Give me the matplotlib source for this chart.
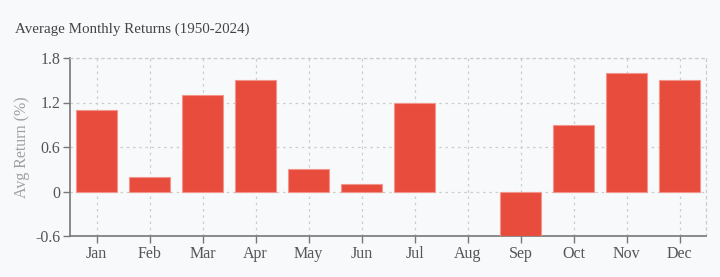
import numpy as np
import matplotlib.pyplot as plt

# average monthly returns (%)
months = ['Jan', 'Feb', 'Mar', 'Apr', 'May', 'Jun',
          'Jul', 'Aug', 'Sep', 'Oct', 'Nov', 'Dec']
avg_return = [1.1, 0.2, 1.3, 1.5, 0.3, 0.1, 1.2, 0.0, -0.6, 0.9, 1.6, 1.5]
yticks = [-0.6, 0, 0.6, 1.2, 1.8]
ytick_labels = ['-0.6', '0', '0.6', '1.2', '1.8']

bg = '#f8f9fa'
txt = '#555555'
axcol = '#777777'

plt.rcParams['font.family'] = ['Liberation Serif', 'DejaVu Serif']

fig = plt.figure(figsize=(7.2, 2.77), dpi=100, facecolor=bg)
ax = fig.add_axes([70 / 720, 1 - 236 / 277, 636 / 720, 178 / 277])
ax.set_facecolor(bg)

x = np.arange(len(months))
bars = ax.bar(x, avg_return, width=0.79, color='#e74c3c', edgecolor='#f2958b',
              linewidth=0.8, zorder=3)
# zero-height bars are not drawn in the original
for b, v in zip(bars, avg_return):
    if v == 0:
        b.set_visible(False)

ax.set_xlim(-0.5, 11.5)
ax.set_ylim(-0.6, 1.8)
ax.set_xticks(x)
ax.set_xticklabels(months)
ax.set_yticks(yticks)
ax.set_yticklabels(ytick_labels)

ax.grid(True, linestyle=(0, (2, 3)), color='#cccccc', linewidth=0.9, zorder=0)

for s in ['top', 'right']:
    ax.spines[s].set_visible(True)
    ax.spines[s].set_linestyle((0, (2, 3)))
    ax.spines[s].set_color('#cccccc')
    ax.spines[s].set_linewidth(0.9)
for s in ['left', 'bottom']:
    ax.spines[s].set_color(axcol)
    ax.spines[s].set_linewidth(1.2)

ax.tick_params(axis='both', direction='out', length=5, width=1,
               color=axcol, labelcolor=txt, labelsize=11.5, pad=2)

ax.set_ylabel('Avg Return (%)', color='#a0a0a0', fontsize=11.5, labelpad=4)

fig.text(15 / 720, 1 - 29 / 277, 'Average Monthly Returns (1950-2024)',
         fontsize=10.8, color='#444444', va='center', ha='left')

plt.savefig('out.png', dpi=100, facecolor=bg)
